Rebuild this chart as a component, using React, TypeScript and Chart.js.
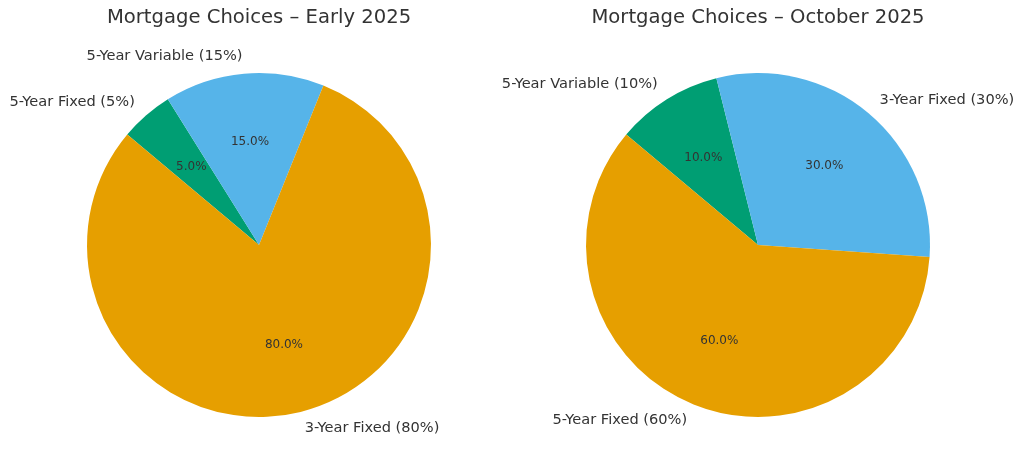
import React, { useEffect, useRef } from "react";
import { Chart, registerables } from "chart.js";

Chart.register(...registerables);

// Early 2025 (listed in drawing order, clockwise from the start angle)
const earlyTitle = "Mortgage Choices – Early 2025";
const earlyLabels = ["5-Year Fixed", "5-Year Variable", "3-Year Fixed"];
const earlyValues = [5, 15, 80];
const earlyColors = ["#009E73", "#56B4E9", "#E69F00"];

// October 2025
const octTitle = "Mortgage Choices – October 2025";
const octLabels = ["5-Year Variable", "3-Year Fixed", "5-Year Fixed"];
const octValues = [10, 30, 60];
const octColors = ["#009E73", "#56B4E9", "#E69F00"];

const FONT = "'DejaVu Sans', sans-serif";
const TEXT = "#333333";

const pieLabels = {
  id: "pieLabels",
  afterDatasetsDraw(chart: any) {
    const ctx = chart.ctx;
    const meta = chart.getDatasetMeta(0);
    const data = chart.data.datasets[0].data as number[];
    const labels = chart.data.labels as string[];
    const total = data.reduce((a, b) => a + b, 0);
    ctx.save();
    ctx.fillStyle = TEXT;
    ctx.textBaseline = "middle";
    meta.data.forEach((arc: any, i: number) => {
      const p = arc.getProps(["x", "y", "startAngle", "endAngle", "outerRadius"], true);
      const mid = (p.startAngle + p.endAngle) / 2;
      const c = Math.cos(mid);
      const s = Math.sin(mid);
      const pct = (data[i] / total) * 100;
      // outer label
      ctx.font = `14.6px ${FONT}`;
      ctx.textAlign = c >= 0 ? "left" : "right";
      ctx.fillText(
        `${labels[i]} (${Math.round(pct)}%)`,
        p.x + 1.1 * p.outerRadius * c,
        p.y + 1.1 * p.outerRadius * s
      );
      // inner percentage
      ctx.font = `12px ${FONT}`;
      ctx.textAlign = "center";
      ctx.fillText(
        `${pct.toFixed(1)}%`,
        p.x + 0.6 * p.outerRadius * c,
        p.y + 0.6 * p.outerRadius * s
      );
    });
    ctx.restore();
  },
};

function PieChart(props: {
  title: string;
  labels: string[];
  values: number[];
  colors: string[];
  padLeft: number;
  padRight: number;
}) {
  const ref = useRef<HTMLCanvasElement>(null);
  useEffect(() => {
    if (!ref.current) return;
    const chart = new Chart(ref.current, {
      type: "pie",
      data: {
        labels: props.labels,
        datasets: [
          {
            data: props.values,
            backgroundColor: props.colors,
            borderWidth: 0,
          },
        ],
      },
      options: {
        responsive: false,
        animation: false,
        rotation: -50,
        layout: {
          padding: { left: props.padLeft, right: props.padRight, top: 0, bottom: 52 },
        },
        plugins: {
          legend: { display: false },
          tooltip: { enabled: false },
          title: {
            display: true,
            text: props.title,
            color: TEXT,
            font: { family: FONT, size: 19.6, weight: "normal", lineHeight: 1.2 },
            padding: { top: 6, bottom: 43.5 },
          },
        },
      },
      plugins: [pieLabels],
    });
    return () => chart.destroy();
  }, []);
  return (
    <canvas
      ref={ref}
      width={1024}
      height={469}
      style={{ position: "absolute", left: 0, top: 0, display: "block" }}
    />
  );
}

export default function App() {
  return (
    <div
      style={{
        position: "absolute",
        left: 0,
        top: 0,
        width: 1024,
        height: 469,
        background: "#ffffff",
      }}
    >
      <PieChart
        title={earlyTitle}
        labels={earlyLabels}
        values={earlyValues}
        colors={earlyColors}
        padLeft={87}
        padRight={593}
      />
      <PieChart
        title={octTitle}
        labels={octLabels}
        values={octValues}
        colors={octColors}
        padLeft={586}
        padRight={94}
      />
    </div>
  );
}
